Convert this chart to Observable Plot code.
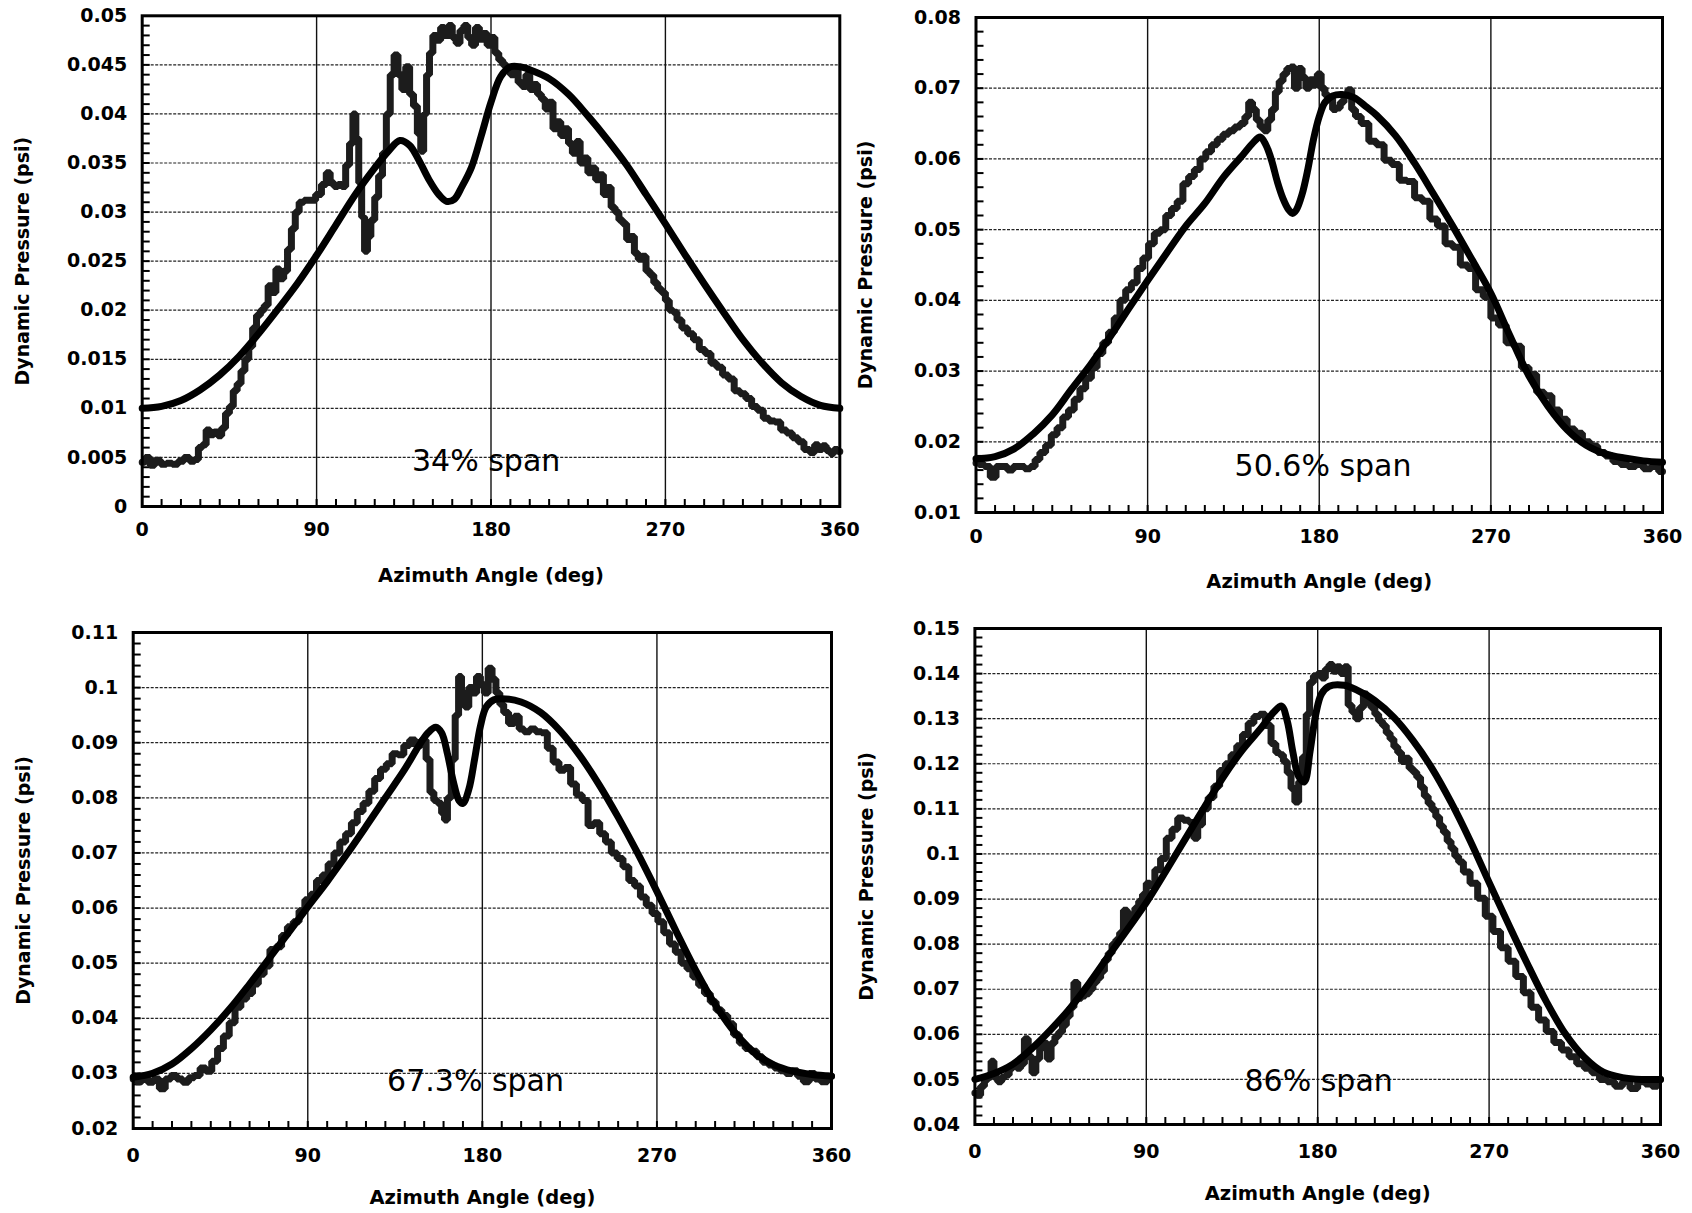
<!DOCTYPE html>
<html><head><meta charset="utf-8">
<script src="https://cdn.jsdelivr.net/npm/d3@7"></script>
<script src="https://cdn.jsdelivr.net/npm/@observablehq/plot@0.6"></script>
<style>
html,body{margin:0;padding:0;background:#fff;}
#wrap{position:relative;width:1692px;height:1213px;overflow:hidden;background:#fff;}
.panel{position:absolute;}
.panel svg{overflow:visible;}
</style></head><body><div id="wrap"></div>
<script>
// ---------- shared axis content ----------
const xTicks = [0, 90, 180, 270, 360];
const xTickLabels = ["0", "90", "180", "270", "360"];
const xGrid = [90, 180, 270];
const xTitle = "Azimuth Angle (deg)";
const yTitle = "Dynamic Pressure (psi)";

// ---------- panel 1 : 34% span ----------
const p1Label = "34% span";
const p1YTicks = [0, 0.005, 0.01, 0.015, 0.02, 0.025, 0.03, 0.035, 0.04, 0.045, 0.05];
const p1YLabels = ["0", "0.005", "0.01", "0.015", "0.02", "0.025", "0.03", "0.035", "0.04", "0.045", "0.05"];
const p1MeasDeg = [0,3,5,8,11,14,17,20,23,26,28,30,32,34,36,38,40,42,44,46,48,50,52,54,56,58,60,62,64,66,68,70,72,74,76,78,80,82,85,88,91,94,96,98,100,102,104,106,108,109.5,111,112.5,114,115.5,117,119,121,123,125,127,129,131,133,135,137,139,141,143,144.5,146,147.5,149,151,153,155,157,159,161,163,165,167,169,171,173,175,177,179,181,183,185,187,189,191,193,195,197,199,201,203,205,207,209,211,213,215,217,219,221,223,225,227,229,231,233,235,237,239,241,243,245,247,249,251,253,255,257,259,261,263,265,267,269,271,273,275,277,280,283,286,289,292,295,298,301,304,307,310,313,316,319,322,325,328,331,334,337,340,343,346,348,350,352,354,356,358,360];
const p1MeasVal = [0.0045,0.0050,0.0042,0.0047,0.0043,0.0044,0.0043,0.0046,0.0050,0.0046,0.0048,0.0060,0.0063,0.0078,0.0073,0.0076,0.0072,0.0080,0.0095,0.0102,0.0118,0.0125,0.0138,0.0150,0.0163,0.0182,0.0195,0.0200,0.0205,0.0225,0.0218,0.0242,0.0232,0.0240,0.0262,0.0283,0.0300,0.0310,0.0312,0.0312,0.0318,0.0328,0.0340,0.0330,0.0326,0.0328,0.0326,0.0348,0.0370,0.0400,0.0375,0.0330,0.0295,0.0260,0.0275,0.0292,0.0315,0.0337,0.0360,0.0400,0.0440,0.0460,0.0440,0.0425,0.0448,0.0420,0.0408,0.0380,0.0362,0.0400,0.0440,0.0462,0.0480,0.0475,0.0488,0.0480,0.0490,0.0478,0.0472,0.0485,0.0490,0.0478,0.0470,0.0488,0.0476,0.0482,0.0470,0.0478,0.0462,0.0455,0.0450,0.0447,0.0440,0.0445,0.0432,0.0428,0.0440,0.0425,0.0430,0.0420,0.0415,0.0405,0.0412,0.0385,0.0392,0.0378,0.0385,0.0370,0.0360,0.0372,0.0350,0.0355,0.0340,0.0345,0.0333,0.0338,0.0318,0.0325,0.0305,0.0300,0.0292,0.0288,0.0272,0.0275,0.0258,0.0252,0.0255,0.0240,0.0236,0.0228,0.0222,0.0218,0.0210,0.0200,0.0198,0.0190,0.0182,0.0176,0.0170,0.0160,0.0156,0.0146,0.0142,0.0134,0.0130,0.0118,0.0115,0.0110,0.0102,0.0098,0.0090,0.0087,0.0086,0.0078,0.0075,0.0070,0.0066,0.0058,0.0055,0.0063,0.0058,0.0062,0.0057,0.0054,0.0058,0.0056];
const p1SmDeg = [0,10,20,30,40,50,60,70,80,90,100,110,120,127,133,138,143,148,153,157,161,165,170,175,180,185,190,195,200,210,220,230,240,250,260,270,280,290,300,310,320,330,340,350,360];
const p1SmVal = [0.0100,0.0102,0.0108,0.0119,0.0134,0.0153,0.0176,0.0201,0.0227,0.0256,0.0287,0.0318,0.0345,0.0362,0.0373,0.0368,0.0352,0.0333,0.0318,0.0311,0.0313,0.0326,0.0346,0.0378,0.0412,0.0438,0.0448,0.0448,0.0445,0.0436,0.0420,0.0398,0.0374,0.0348,0.0318,0.0288,0.0257,0.0227,0.0198,0.0170,0.0146,0.0126,0.0112,0.0103,0.0100];

// ---------- panel 2 : 50.6% span ----------
const p2Label = "50.6% span";
const p2YTicks = [0.01, 0.02, 0.03, 0.04, 0.05, 0.06, 0.07, 0.08];
const p2YLabels = ["0.01", "0.02", "0.03", "0.04", "0.05", "0.06", "0.07", "0.08"];
const p2MeasDeg = [0,3,6,9,12,15,18,21,24,27,30,32,35,38,41,44,47,50,53,56,59,62,65,68,71,74,77,80,83,86,89,92,95,98,101,104,107,110,113,116,119,122,125,128,131,134,137,140,142,144,146,148,150,152,154,156,158,160,162,164,166,168,170,172,174,176,178,180,182,184,186,188,190,192,194,196,198,200,204,208,212,216,220,224,228,232,236,240,244,248,252,256,260,264,268,272,276,280,284,288,292,296,300,304,308,312,316,320,324,328,332,336,340,344,348,352,356,360];
const p2MeasVal = [0.0170,0.0168,0.0165,0.0150,0.0165,0.0165,0.0160,0.0165,0.0165,0.0162,0.0165,0.0175,0.0185,0.0195,0.0210,0.0220,0.0235,0.0245,0.0260,0.0275,0.0290,0.0305,0.0325,0.0340,0.0355,0.0375,0.0400,0.0415,0.0425,0.0445,0.0460,0.0480,0.0495,0.0500,0.0520,0.0530,0.0540,0.0565,0.0575,0.0585,0.0600,0.0610,0.0620,0.0628,0.0635,0.0640,0.0645,0.0650,0.0660,0.0680,0.0670,0.0655,0.0645,0.0640,0.0655,0.0670,0.0695,0.0710,0.0720,0.0728,0.0730,0.0700,0.0728,0.0715,0.0700,0.0712,0.0705,0.0720,0.0700,0.0690,0.0685,0.0670,0.0672,0.0680,0.0690,0.0698,0.0670,0.0660,0.0650,0.0625,0.0620,0.0598,0.0592,0.0570,0.0568,0.0545,0.0540,0.0515,0.0505,0.0480,0.0475,0.0450,0.0445,0.0415,0.0405,0.0375,0.0365,0.0340,0.0335,0.0305,0.0295,0.0270,0.0265,0.0245,0.0232,0.0218,0.0212,0.0200,0.0194,0.0185,0.0180,0.0172,0.0168,0.0165,0.0168,0.0162,0.0165,0.0158];
const p2SmDeg = [0,10,20,30,40,50,60,70,80,90,100,110,120,130,140,145,149,152,155,158,161,164,166,168,171,174,177,180,183,187,192,198,205,210,220,230,240,250,260,270,280,290,300,310,320,330,340,350,360];
const p2SmVal = [0.0176,0.0179,0.0190,0.0211,0.0238,0.0274,0.0309,0.0347,0.0388,0.0428,0.0467,0.0505,0.0537,0.0575,0.0606,0.0622,0.0631,0.0620,0.0598,0.0568,0.0544,0.0528,0.0523,0.0528,0.0550,0.0585,0.0628,0.0660,0.0680,0.0689,0.0691,0.0687,0.0673,0.0662,0.0633,0.0594,0.0550,0.0505,0.0458,0.0410,0.0350,0.0293,0.0250,0.0217,0.0195,0.0183,0.0177,0.0173,0.0171];

// ---------- panel 3 : 67.3% span ----------
const p3Label = "67.3% span";
const p3YTicks = [0.02, 0.03, 0.04, 0.05, 0.06, 0.07, 0.08, 0.09, 0.1, 0.11];
const p3YLabels = ["0.02", "0.03", "0.04", "0.05", "0.06", "0.07", "0.08", "0.09", "0.1", "0.11"];
const p3MeasDeg = [0,3,6,9,12,15,18,21,24,27,30,33,36,39,42,45,48,51,54,57,60,63,66,69,72,75,78,81,84,87,90,93,96,99,102,105,108,111,114,117,120,123,126,129,132,135,138,141,144,147,150,152,154,156,158,160,161,163,165,167,168.5,170,172,174,176,178,180,182,184,186,188,190,192,195,198,200,203,206,209,212,215,218,221,224,227,230,233,236,239,242,245,248,251,254,257,260,263,266,269,272,275,278,281,284,287,290,293,296,299,302,305,308,311,314,317,320,323,326,329,332,335,338,341,344,347,350,353,356,360];
const p3MeasVal = [0.0290,0.0285,0.0292,0.0284,0.0290,0.0272,0.0290,0.0296,0.0290,0.0284,0.0292,0.0296,0.0310,0.0304,0.0322,0.0345,0.0368,0.0392,0.0420,0.0435,0.0445,0.0462,0.0480,0.0495,0.0525,0.0530,0.0550,0.0566,0.0575,0.0595,0.0615,0.0625,0.0650,0.0660,0.0680,0.0700,0.0720,0.0735,0.0755,0.0775,0.0790,0.0812,0.0835,0.0852,0.0862,0.0880,0.0878,0.0895,0.0905,0.0895,0.0905,0.0870,0.0810,0.0795,0.0790,0.0772,0.0760,0.0800,0.0870,0.0950,0.1020,0.0990,0.0965,0.1000,0.0990,0.1020,0.1005,0.0990,0.1035,0.1015,0.0990,0.0970,0.0955,0.0935,0.0948,0.0925,0.0920,0.0925,0.0920,0.0918,0.0890,0.0865,0.0850,0.0855,0.0825,0.0805,0.0795,0.0750,0.0755,0.0735,0.0720,0.0700,0.0690,0.0675,0.0650,0.0640,0.0620,0.0605,0.0590,0.0575,0.0555,0.0535,0.0520,0.0500,0.0490,0.0475,0.0460,0.0445,0.0430,0.0415,0.0405,0.0390,0.0370,0.0355,0.0345,0.0340,0.0330,0.0320,0.0315,0.0310,0.0305,0.0300,0.0305,0.0295,0.0285,0.0300,0.0290,0.0285,0.0295];
const p3SmDeg = [0,10,20,30,40,50,60,70,80,90,100,110,120,130,140,147,152,156,159,162,165,168,170,173,176,179,182,186,190,200,210,220,230,240,250,260,270,280,290,300,310,320,330,340,350,360];
const p3SmVal = [0.0293,0.0300,0.0317,0.0345,0.0379,0.0418,0.0462,0.0508,0.0555,0.0602,0.0648,0.0697,0.0748,0.0800,0.0852,0.0893,0.0918,0.0928,0.0918,0.0880,0.0830,0.0795,0.0790,0.0815,0.0870,0.0930,0.0965,0.0978,0.0980,0.0974,0.0955,0.0922,0.0878,0.0825,0.0765,0.0700,0.0630,0.0557,0.0487,0.0425,0.0375,0.0338,0.0316,0.0304,0.0298,0.0295];

// ---------- panel 4 : 86% span ----------
const p4Label = "86% span";
const p4YTicks = [0.04, 0.05, 0.06, 0.07, 0.08, 0.09, 0.1, 0.11, 0.12, 0.13, 0.14, 0.15];
const p4YLabels = ["0.04", "0.05", "0.06", "0.07", "0.08", "0.09", "0.1", "0.11", "0.12", "0.13", "0.14", "0.15"];
const p4MeasDeg = [0,2,4,6,8,9,11,13,15,17,19,21,23,25,27,29,31,33,35,37,39,41,43,45,47,49,51,53,55,57,59,61,63,65,67,69,71,73,75,77,79,81,83,85,87,89,91,93,96,99,102,105,108,111,114,116,118,121,124,127,130,133,136,139,142,145,148,151,154,157,159,161,163,165,167,169,171,173,175,176.5,179,181,183,185,187,189,191,193,195,197,199,201,203,205,207,209,211,213,215,217,219,221,223,225,227,229,231,233,235,237,239,241,243,245,247,249,251,253,255,258,262,266,270,274,278,282,286,290,294,298,302,306,310,314,318,322,326,330,334,338,342,346,350,354,357,360];
const p4MeasVal = [0.0470,0.0465,0.0485,0.0500,0.0505,0.0540,0.0505,0.0495,0.0505,0.0510,0.0525,0.0530,0.0525,0.0535,0.0590,0.0550,0.0515,0.0545,0.0570,0.0580,0.0545,0.0580,0.0595,0.0605,0.0620,0.0640,0.0660,0.0715,0.0680,0.0685,0.0690,0.0700,0.0715,0.0725,0.0740,0.0765,0.0780,0.0800,0.0810,0.0825,0.0875,0.0845,0.0865,0.0880,0.0895,0.0910,0.0935,0.0930,0.0965,0.0990,0.1035,0.1055,0.1080,0.1075,0.1070,0.1035,0.1065,0.1100,0.1125,0.1150,0.1185,0.1200,0.1220,0.1240,0.1265,0.1290,0.1305,0.1310,0.1285,0.1245,0.1225,0.1220,0.1205,0.1180,0.1145,0.1115,0.1160,0.1215,0.1310,0.1380,0.1395,0.1400,0.1390,0.1410,0.1420,0.1405,0.1415,0.1400,0.1415,0.1330,0.1315,0.1300,0.1325,0.1355,0.1335,0.1325,0.1310,0.1295,0.1285,0.1268,0.1255,0.1238,0.1225,0.1205,0.1212,0.1190,0.1182,0.1170,0.1148,0.1128,0.1112,0.1098,0.1082,0.1062,0.1048,0.1028,0.1012,0.0995,0.0982,0.0960,0.0935,0.0902,0.0862,0.0828,0.0792,0.0762,0.0728,0.0692,0.0660,0.0632,0.0606,0.0582,0.0565,0.0550,0.0535,0.0525,0.0515,0.0500,0.0495,0.0485,0.0495,0.0480,0.0495,0.0490,0.0485,0.0500];
const p4SmDeg = [0,10,20,30,40,50,60,70,80,90,100,110,120,130,140,150,157,161,164,167,170,173,176,179,182,186,194,204,210,220,230,240,250,260,270,280,290,300,310,320,330,340,350,360];
const p4SmVal = [0.0500,0.0513,0.0534,0.0569,0.0611,0.0658,0.0713,0.0773,0.0832,0.0892,0.0960,0.1030,0.1100,0.1168,0.1228,0.1278,0.1315,0.1328,0.1295,0.1225,0.1172,0.1160,0.1228,0.1310,0.1355,0.1372,0.1374,0.1356,0.1340,0.1303,0.1252,0.1190,0.1115,0.1030,0.0937,0.0846,0.0757,0.0673,0.0601,0.0549,0.0516,0.0504,0.0500,0.0500];

// ---------- layout ----------
const panels = [
  {left: 0,   top: 0,   w: 846, h: 606, ml: 141.7, mr: 6.7, mt: 15.3, mb: 100, yDomain: [0, 0.05],    minorStep: 0.001,
   yTicks: p1YTicks, yLabels: p1YLabels, measDeg: p1MeasDeg, measVal: p1MeasVal, smDeg: p1SmDeg, smVal: p1SmVal,
   label: p1Label, lx: 177.5, ly: 0.0046, ytDx: -119, xPad: 16},
  {left: 846, top: 0,   w: 846, h: 606, ml: 129.5, mr: 30,  mt: 17,   mb: 94,  yDomain: [0.01, 0.08], minorStep: 0.002,
   yTicks: p2YTicks, yLabels: p2YLabels, measDeg: p2MeasDeg, measVal: p2MeasVal, smDeg: p2SmDeg, smVal: p2SmVal,
   label: p2Label, lx: 182, ly: 0.0165, ytDx: -110, xPad: 17},
  {left: 0,   top: 606, w: 846, h: 607, ml: 132.7, mr: 15,  mt: 26,   mb: 85,  yDomain: [0.02, 0.11], minorStep: 0.002,
   yTicks: p3YTicks, yLabels: p3YLabels, measDeg: p3MeasDeg, measVal: p3MeasVal, smDeg: p3SmDeg, smVal: p3SmVal,
   label: p3Label, lx: 176.5, ly: 0.0285, ytDx: -109, xPad: 20},
  {left: 846, top: 606, w: 846, h: 607, ml: 128.4, mr: 32,  mt: 22,   mb: 89,  yDomain: [0.04, 0.15], minorStep: 0.002,
   yTicks: p4YTicks, yLabels: p4YLabels, measDeg: p4MeasDeg, measVal: p4MeasVal, smDeg: p4SmDeg, smVal: p4SmVal,
   label: p4Label, lx: 180.5, ly: 0.0495, ytDx: -108, xPad: 20}
];

const wrap = document.getElementById("wrap");
const font = "'DejaVu Sans', 'Liberation Sans', sans-serif";

for (const p of panels) {
  const fw = p.w - p.ml - p.mr;
  const fh = p.h - p.mt - p.mb;
  const meas = p.measDeg.map((d, i) => ({deg: d, v: p.measVal[i]}));
  const sm = p.smDeg.map((d, i) => ({deg: d, v: p.smVal[i]}));
  const yLab = new Map(p.yTicks.map((t, i) => [t, p.yLabels[i]]));
  const xLab = new Map(xTicks.map((t, i) => [t, xTickLabels[i]]));
  const nMinor = Math.round((p.yDomain[1] - p.yDomain[0]) / p.minorStep);
  const yMinor = d3.range(1, nMinor).map(k => p.yDomain[0] + k * p.minorStep);
  const xMinor = d3.range(10, 360, 10);
  const innerGrid = p.yTicks.slice(1, -1);

  const chart = Plot.plot({
    width: p.w, height: p.h,
    marginLeft: p.ml, marginRight: p.mr, marginTop: p.mt, marginBottom: p.mb,
    x: {domain: [0, 360]},
    y: {domain: p.yDomain},
    style: {fontFamily: font, fontWeight: "bold", fontSize: "19px", color: "black", background: "transparent", overflow: "visible"},
    marks: [
      Plot.ruleY(innerGrid, {y: d => d, stroke: "#222", strokeWidth: 1.2, strokeDasharray: "3,1.5"}),
      Plot.ruleX(xGrid, {x: d => d, stroke: "#111", strokeWidth: 1.4}),
      Plot.tickY(yMinor, {y: d => d, insetRight: fw - 8, stroke: "black", strokeWidth: 2}),
      Plot.tickX(xMinor, {x: d => d, insetTop: fh - 7, stroke: "black", strokeWidth: 2}),
      Plot.line(meas, {x: "deg", y: "v", curve: "step", stroke: "#1c1c1c", strokeWidth: 7, strokeLinejoin: "miter"}),
      Plot.line(sm, {x: "deg", y: "v", curve: "catmull-rom", stroke: "black", strokeWidth: 7}),
      Plot.text([p.label], {x: () => p.lx, y: () => p.ly, text: d => d, fontSize: 30, fontWeight: "normal", fill: "black"}),
      Plot.frame({stroke: "black", strokeWidth: 3}),
      Plot.axisX({ticks: xTicks, tickSize: 0, tickPadding: p.xPad, tickFormat: d => xLab.get(d), label: null, fontSize: 19, fontWeight: "bold"}),
      Plot.axisY({ticks: p.yTicks, tickSize: 0, tickPadding: 15, tickFormat: d => yLab.get(d), label: null, fontSize: 19, fontWeight: "bold"}),
      Plot.text([xTitle], {frameAnchor: "bottom", dy: 69, lineAnchor: "middle", textAnchor: "middle", text: d => d, fontSize: 19.5, fontWeight: "bold"}),
      Plot.text([yTitle], {frameAnchor: "left", dx: p.ytDx, rotate: -90, lineAnchor: "middle", textAnchor: "middle", text: d => d, fontSize: 19, fontWeight: "bold"})
    ]
  });
  const div = document.createElement("div");
  div.className = "panel";
  div.style.left = p.left + "px";
  div.style.top = p.top + "px";
  div.style.width = p.w + "px";
  div.style.height = p.h + "px";
  div.appendChild(chart);
  wrap.appendChild(div);
}
</script></body></html>
